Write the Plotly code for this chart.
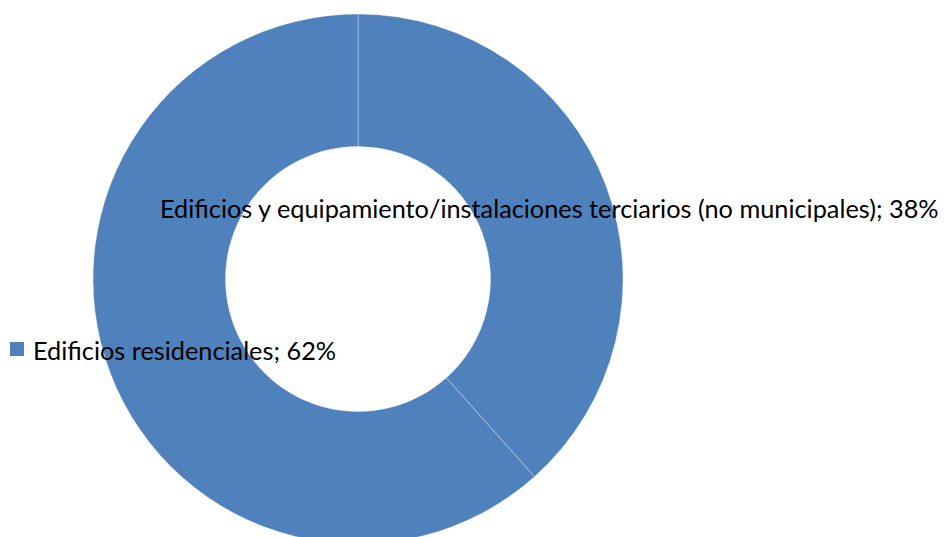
import plotly.graph_objects as go

categories = ["Edificios y equipamiento/instalaciones terciarios (no municipales)", "Edificios residenciales"]
values = [38.4, 61.6]
pct_labels = ["38%", "62%"]

W, H = 944, 545
OFF = 8  # page body margin
BLUE = "#4F81BD"

def px_x(x):
    return (x - OFF) / W

def px_y(y):
    return (H - (y - OFF)) / H

fig = go.Figure(go.Pie(
    labels=categories,
    values=values,
    hole=0.5,
    sort=False,
    direction="clockwise",
    rotation=0,
    marker=dict(colors=[BLUE, BLUE], line=dict(color="rgba(255,255,255,0.35)", width=1)),
    textinfo="none",
    hoverinfo="label+percent",
    showlegend=False,
    domain=dict(x=[px_x(93), px_x(623)], y=[px_y(544), px_y(14)]),
))

FONT = dict(family="Lato, 'Open Sans', sans-serif", size=25.3, color="#000000")

fig.add_annotation(
    x=px_x(158), y=px_y(208), xref="paper", yref="paper",
    xanchor="left", yanchor="middle", showarrow=False,
    text=f"{categories[0]}; {pct_labels[0]}", font=FONT,
)
fig.add_annotation(
    x=px_x(31), y=px_y(350), xref="paper", yref="paper",
    xanchor="left", yanchor="middle", showarrow=False,
    text=f"{categories[1]}; {pct_labels[1]}", font=FONT,
)
fig.add_shape(
    type="rect", xref="paper", yref="paper",
    x0=px_x(10), x1=px_x(24), y0=px_y(356), y1=px_y(342),
    fillcolor=BLUE, line=dict(width=0),
)

fig.update_layout(
    width=W, height=H,
    margin=dict(l=0, r=0, t=0, b=0),
    paper_bgcolor="white", plot_bgcolor="white",
)

fig.write_html("out.html")
